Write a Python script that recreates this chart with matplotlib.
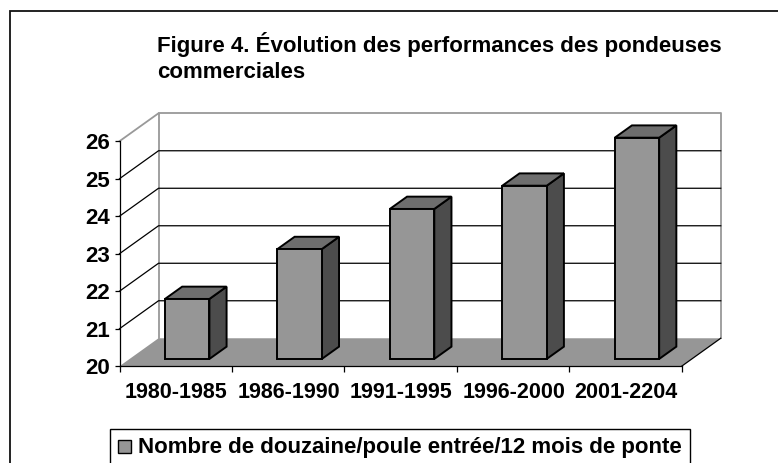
#!/usr/bin/env python3
"""Figure 4: 3D-style bar chart of laying hen performance."""

import matplotlib
matplotlib.use("Agg")
import matplotlib.pyplot as plt
from matplotlib.patches import Polygon, Rectangle

plt.rcParams["font.family"] = ["Liberation Sans", "DejaVu Sans"]
plt.rcParams["font.weight"] = "bold"

periods = ["1980-1985", "1986-1990", "1991-1995", "1996-2000", "2001-2204"]
dozens = [21.6, 22.93, 24.0, 24.62, 25.9]
y_ticks = [20, 21, 22, 23, 24, 25, 26]

W, H = 778, 463
BASE = y_ticks[0]
TOP = y_ticks[-1]

# depth of the fake 3D box, in data units
DEPTH_X = 0.347
DEPTH_Y = 0.745
BAR_FRONT = 0.26
BAR_BACK = 0.70
BAR_WIDTH = 0.395
BAR_SHIFT = 0.012

GRAY_FRONT = "#969696"
GRAY_TOP = "#6e6e6e"
GRAY_SIDE = "#4c4c4c"
GRAY_WALL = "#969696"


def proj(x, y, d):
    return (x + d * DEPTH_X, y + d * DEPTH_Y)


def poly(ax, pts, face, edge="black", lw=1.4, z=3):
    ax.add_patch(Polygon(pts, closed=True, facecolor=face, edgecolor=edge, linewidth=lw,
                         joinstyle="miter", clip_on=False, zorder=z))


fig = plt.figure(figsize=(W / 100, H / 100), dpi=100)
ax = fig.add_axes([119.5 / W, (H - 366.2) / H, 562.2 / W, 225 / H])
ax.set_xlim(0, len(periods))
ax.set_ylim(BASE, TOP)
ax.patch.set_visible(False)

# floor and walls
n = len(periods)
poly(ax, [proj(0, BASE, 0), proj(n, BASE, 0), proj(n, BASE, 1), proj(0, BASE, 1)],
     GRAY_WALL, edge="none", lw=0, z=1)
ax.plot(*zip(proj(0, BASE, 1), proj(0, TOP, 1), proj(n, TOP, 1), proj(n, BASE, 1)),
        color="#999999", lw=1.3, clip_on=False, zorder=1)
ax.plot(*zip(proj(0, TOP, 0), proj(0, TOP, 1)), color="#999999", lw=1.3, clip_on=False, zorder=1)
ax.plot(*zip(proj(n, BASE, 0), proj(n, BASE, 1)), color="black", lw=0.9, clip_on=False, zorder=1)
for t in y_ticks[1:-1]:
    ax.plot(*zip(proj(0, t, 0), proj(0, t, 1), proj(n, t, 1)),
            color="black", lw=0.9, clip_on=False, zorder=2)

# bars
for i, v in enumerate(dozens):
    x0 = i + 0.5 + BAR_SHIFT - BAR_WIDTH / 2
    x1 = i + 0.5 + BAR_SHIFT + BAR_WIDTH / 2
    poly(ax, [proj(x1, BASE, BAR_FRONT), proj(x1, v, BAR_FRONT), proj(x1, v, BAR_BACK),
              proj(x1, BASE, BAR_BACK)], GRAY_SIDE)
    poly(ax, [proj(x0, v, BAR_FRONT), proj(x1, v, BAR_FRONT), proj(x1, v, BAR_BACK),
              proj(x0, v, BAR_BACK)], GRAY_TOP)
    poly(ax, [proj(x0, BASE, BAR_FRONT), proj(x1, BASE, BAR_FRONT), proj(x1, v, BAR_FRONT),
              proj(x0, v, BAR_FRONT)], GRAY_FRONT)

# axes
for side in ("top", "right"):
    ax.spines[side].set_visible(False)
for side in ("left", "bottom"):
    ax.spines[side].set_linewidth(0.9)
    ax.spines[side].set_zorder(4)
ax.set_yticks(y_ticks)
ax.set_yticklabels([str(t) for t in y_ticks], fontsize=16, fontweight="bold")
ax.set_xticks(range(n + 1))
ax.set_xticklabels([""] * (n + 1))
ax.tick_params(axis="y", length=3.5, width=0.9, pad=3)
ax.tick_params(axis="x", length=4, width=0.9, direction="out")
for i, p in enumerate(periods):
    ax.annotate(p, xy=(i + 0.5, BASE), xytext=(0.5, -19), textcoords="offset points",
                ha="center", va="center", fontsize=15.5, fontweight="bold")

# title
fig.text(157 / W, (H - 52) / H, "Figure 4. Évolution des performances des pondeuses",
         fontsize=16, fontweight="bold", ha="left", va="baseline")
fig.text(157 / W, (H - 78) / H, "commerciales",
         fontsize=16, fontweight="bold", ha="left", va="baseline")

# outer frame, cut by the image edges on the right and bottom
fig.add_artist(Rectangle((9.5 / W, -0.05), 1.0, (H - 11) / H + 0.05, transform=fig.transFigure,
                         facecolor="none", edgecolor="#111111", linewidth=1.3))

# legend box, also cut at the bottom
fig.add_artist(Rectangle((110 / W, -0.05), 580 / W, (H - 428.5) / H + 0.05,
                         transform=fig.transFigure, facecolor="none", edgecolor="black",
                         linewidth=1.0))
fig.add_artist(Rectangle((118 / W, (H - 452.5) / H), 13 / W, 12.5 / H, transform=fig.transFigure,
                         facecolor=GRAY_FRONT, edgecolor="black", linewidth=1.0))
fig.text(138 / W, (H - 453) / H, "Nombre de douzaine/poule entrée/12 mois de ponte",
         fontsize=16, fontweight="bold", ha="left", va="baseline")

fig.savefig("out.png", dpi=100)
